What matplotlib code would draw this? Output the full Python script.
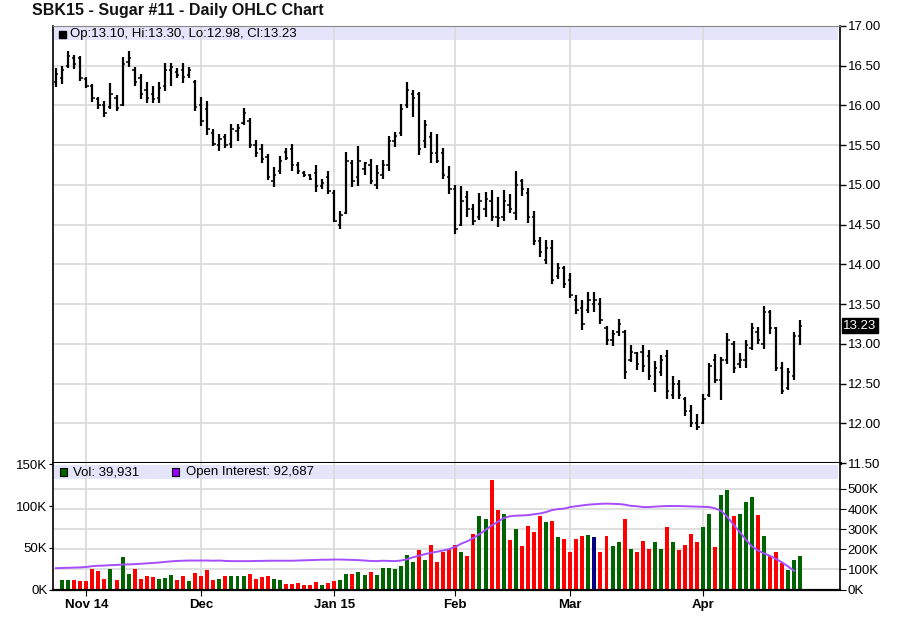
import numpy as np
import matplotlib
matplotlib.use('Agg')
import matplotlib.pyplot as plt
from matplotlib.patches import Rectangle

plt.rcParams['font.family'] = ['Liberation Sans', 'DejaVu Sans']

# daily OHLC, Oct 28 2014 .. Apr 24 2015 (one entry per trading day)
highs = [16.47, 16.50, 16.68, 16.64, 16.62, 16.36, 16.27, 16.11, 16.05, 16.28,
         16.13, 16.61, 16.69, 16.49, 16.40, 16.30, 16.24, 16.30, 16.53, 16.53,
         16.47, 16.54, 16.49, 16.32, 16.11, 16.05, 15.70, 15.64, 15.64, 15.77,
         15.77, 15.97, 15.84, 15.56, 15.52, 15.39, 15.22, 15.37, 15.46, 15.51,
         15.29, 15.18, 15.14, 15.25, 15.07, 15.18, 14.93, 14.67, 15.42, 15.31,
         15.49, 15.29, 15.32, 15.25, 15.31, 15.61, 15.67, 16.02, 16.30, 16.19,
         16.17, 15.82, 15.66, 15.64, 15.46, 15.24, 15.00, 14.99, 14.92, 14.76,
         14.90, 14.91, 14.94, 14.85, 14.93, 14.89, 15.18, 15.07, 14.96, 14.67,
         14.34, 14.31, 14.31, 14.02, 13.98, 13.89, 13.61, 13.55, 13.65, 13.65,
         13.58, 13.22, 13.18, 13.31, 13.17, 12.98, 12.90, 12.98, 12.92, 12.79,
         12.86, 12.92, 12.59, 12.54, 12.33, 12.23, 12.12, 12.37, 12.76, 12.87,
         12.84, 13.14, 13.03, 12.88, 13.05, 13.26, 13.21, 13.47, 13.43, 13.21,
         12.77, 12.70, 13.15, 13.30]
lows = [16.23, 16.27, 16.47, 16.46, 16.31, 16.22, 16.04, 15.95, 15.85, 15.95,
        15.93, 15.99, 16.49, 16.25, 16.08, 16.03, 16.03, 16.03, 16.18, 16.25,
        16.35, 16.28, 16.35, 15.93, 15.74, 15.63, 15.49, 15.43, 15.47, 15.46,
        15.55, 15.75, 15.46, 15.35, 15.27, 15.06, 14.97, 15.14, 15.31, 15.18,
        15.14, 15.10, 15.06, 14.91, 14.95, 14.89, 14.53, 14.44, 14.63, 14.97,
        14.99, 15.13, 15.01, 14.95, 15.08, 15.18, 15.48, 15.61, 15.97, 15.86,
        15.38, 15.46, 15.27, 15.27, 15.07, 14.89, 14.38, 14.48, 14.60, 14.50,
        14.56, 14.60, 14.55, 14.47, 14.54, 14.65, 14.56, 14.86, 14.52, 14.25,
        14.09, 14.00, 13.75, 13.81, 13.70, 13.58, 13.38, 13.18, 13.39, 13.40,
        13.25, 12.99, 12.97, 13.10, 12.56, 12.77, 12.67, 12.65, 12.54, 12.39,
        12.59, 12.31, 12.31, 12.31, 12.09, 11.95, 11.91, 11.99, 12.33, 12.51,
        12.29, 12.74, 12.63, 12.70, 12.70, 12.92, 13.00, 12.93, 13.12, 12.66,
        12.37, 12.42, 12.55, 12.98]
opens = [16.30, 16.35, 16.50, 16.60, 16.60, 16.33, 16.25, 16.08, 16.00, 15.98,
         16.10, 16.00, 16.55, 16.45, 16.35, 16.20, 16.15, 16.10, 16.25, 16.45,
         16.42, 16.45, 16.38, 16.30, 16.00, 15.95, 15.65, 15.50, 15.60, 15.52,
         15.68, 15.78, 15.80, 15.50, 15.45, 15.35, 15.05, 15.18, 15.42, 15.45,
         15.25, 15.15, 15.12, 15.15, 14.98, 15.10, 14.90, 14.50, 14.65, 15.28,
         15.10, 15.20, 15.25, 15.00, 15.12, 15.25, 15.55, 15.65, 16.00, 16.15,
         16.15, 15.55, 15.60, 15.40, 15.40, 15.10, 14.95, 14.50, 14.85, 14.70,
         14.60, 14.70, 14.80, 14.60, 14.60, 14.75, 14.65, 15.05, 14.90, 14.60,
         14.30, 14.05, 14.20, 13.85, 13.95, 13.80, 13.55, 13.45, 13.42, 13.50,
         13.50, 13.20, 13.05, 13.15, 13.15, 12.80, 12.88, 12.90, 12.85, 12.50,
         12.65, 12.85, 12.35, 12.50, 12.30, 12.15, 12.00, 12.00, 12.35, 12.80,
         12.55, 12.80, 13.00, 12.75, 12.80, 12.95, 13.15, 13.00, 13.40, 13.20,
         12.70, 12.45, 12.60, 13.10]
closes = [16.40, 16.44, 16.62, 16.52, 16.35, 16.25, 16.10, 16.00, 15.90, 16.15,
          15.97, 16.52, 16.60, 16.30, 16.15, 16.10, 16.08, 16.22, 16.45, 16.48,
          16.38, 16.36, 16.45, 15.98, 15.80, 15.70, 15.52, 15.58, 15.50, 15.70,
          15.72, 15.90, 15.50, 15.40, 15.32, 15.10, 15.12, 15.30, 15.34, 15.25,
          15.18, 15.12, 15.08, 14.98, 15.02, 14.92, 14.55, 14.62, 15.30, 15.05,
          15.30, 15.27, 15.05, 15.15, 15.25, 15.55, 15.62, 15.95, 16.20, 16.10,
          15.45, 15.75, 15.40, 15.30, 15.12, 14.95, 14.45, 14.80, 14.70, 14.55,
          14.80, 14.82, 14.60, 14.58, 14.80, 14.70, 15.00, 14.95, 14.60, 14.30,
          14.15, 14.20, 13.80, 13.95, 13.75, 13.62, 13.42, 13.25, 13.55, 13.55,
          13.30, 13.05, 13.12, 13.25, 12.65, 12.90, 12.75, 12.72, 12.60, 12.70,
          12.80, 12.40, 12.50, 12.35, 12.15, 12.00, 11.95, 12.30, 12.72, 12.55,
          12.80, 13.05, 12.70, 12.80, 12.98, 13.20, 13.05, 13.40, 13.20, 12.70,
          12.40, 12.65, 13.10, 13.23]

# volume in thousands, g = up, r = down, b = unchanged
volume = [0, 11, 11, 11, 10, 10, 25, 22, 13, 24,
          11, 39, 19, 24, 13, 16, 15, 13, 14, 17,
          11, 16, 10, 20, 16, 23, 11, 13, 16, 16,
          16, 16, 19, 13, 15, 16, 13, 11, 7, 7,
          7.4, 5.4, 5.4, 8.6, 5.4, 7.4, 10.2, 11.4, 18.9, 18.9,
          20.6, 17.4, 20.6, 17.4, 26.2, 26.2, 24.6, 28.6, 41.4, 32.6,
          47.4, 35.4, 53.4, 32.6, 44.6, 48.6, 53.4, 44.6, 40.2, 66.8,
          87.8, 85, 131.4, 95.4, 90.8, 59.4, 73, 52.2, 76.2, 68.6,
          87.8, 80.6, 82.2, 62.4, 60.6, 44.6, 60.6, 63.8, 65.4, 62.6,
          44.6, 63.8, 52.2, 56.6, 84.6, 48.6, 44.6, 58.2, 48.6, 56.6,
          48.6, 74.6, 56.6, 47.4, 53.4, 66.6, 56.6, 74.6, 90.6, 50.6,
          113.4, 119.4, 88.2, 90.6, 104.2, 110.6, 89.4, 64.2, 40.2, 44.6,
          31.4, 23.4, 35.4, 39.9]
vol_dir = ('rggrrrrrrg' 'rggrrrrggg' 'rrgrrrrgrg' 'ggrrrrggrr'
           'rrrrgrrggr' 'ggrggggggg' 'rgrrrrrgrr' 'ggrrgrgrrr'
           'rgrgrrrrgb' 'rrggrgrrrg' 'grgrrrrggr' 'ggrgggrgrr' 'rggg')

# open interest in thousands
open_int = [106, 107, 108, 109, 110, 112, 116, 118, 119, 121,
            122, 124, 125, 126, 128, 130, 132, 134, 137, 140,
            142, 143, 144, 144, 144, 144, 143, 144, 142, 141,
            141, 141, 141, 142, 142, 143, 143, 143, 143, 143,
            144, 145, 146, 147, 148, 148, 149, 149, 148, 147,
            146, 144, 142, 141, 143, 142, 141, 144, 150, 160,
            168, 176, 183, 188, 194, 201, 212, 228, 240, 256,
            275, 296, 318, 336, 355, 364, 367, 368, 370, 374,
            378, 385, 395, 400, 402, 410, 414, 418, 422, 424,
            426, 427, 426, 425, 422, 416, 414, 410, 410, 412,
            414, 415, 415, 415, 414, 413, 412, 411, 410, 403,
            390, 360, 322, 286, 250, 215, 195, 180, 168, 152,
            135, 115, 93]

month_pos = [5, 24, 46, 66, 85, 107]
month_labels = ['Nov 14', 'Dec', 'Jan 15', 'Feb', 'Mar', 'Apr']
price_ticks = np.arange(11.5, 17.01, 0.5)
vol_ticks = [0, 50, 100, 150]
oi_ticks = [0, 100, 200, 300, 400, 500]

W, H = 905, 622
def fx(x): return x / W
def fy(y): return 1 - y / H

grid_c = '#dcdcdc'
band_c = '#e4e4fa'
cmap = {'g': '#006400', 'r': '#ff0000', 'b': '#000080'}

fig = plt.figure(figsize=(W / 100, H / 100), dpi=100)
ax = fig.add_axes([fx(53), fy(463), fx(840) - fx(53), fy(26) - fy(463)])
axo = fig.add_axes([fx(53), fy(589.5), fx(840) - fx(53), fy(463) - fy(589.5)])
axv = fig.add_axes(axo.get_position(), sharex=axo)
axl = fig.add_axes(axo.get_position(), sharex=axo)
axo.set_zorder(1)
axv.set_zorder(2)
axl.set_zorder(3)
axv.patch.set_visible(False)
axl.patch.set_visible(False)

xs = np.arange(len(highs))
xlim = (-0.5, 129.6)

# --- price panel
ax.vlines(xs, lows, highs, color='black', lw=1.6, zorder=3)
ax.hlines(opens, xs - 0.38, xs, color='black', lw=1.1, zorder=3)
ax.hlines(closes, xs, xs + 0.38, color='black', lw=1.1, zorder=3)
ax.set_xlim(xlim)
ax.set_ylim(11.5, 17.0)
ax.set_xticks(month_pos)
ax.set_yticks(price_ticks)
ax.set_yticklabels(['%.2f' % p for p in price_ticks])
ax.yaxis.tick_right()
ax.tick_params(axis='y', direction='out', length=4, width=1, pad=1.5, labelsize=9.5)
ax.tick_params(axis='x', length=0, labelbottom=False)
ax.set_axisbelow(True)
ax.grid(True, color=grid_c, lw=1.3)
ax.add_patch(Rectangle((0, 0.9685), 0.997, 0.029, transform=ax.transAxes,
                       facecolor=band_c, edgecolor='none', zorder=0.3))
for s in ['left', 'right']:
    ax.spines[s].set_linewidth(1.2)
ax.spines['top'].set_linewidth(0.8)
ax.spines['top'].set_color('#888888')
ax.spines['bottom'].set_linewidth(2.2)

ax.text(1.004, closes[-1], '%.2f' % closes[-1], transform=ax.get_yaxis_transform(),
        color='white', fontsize=9.5, va='center', ha='left',
        bbox=dict(boxstyle='square,pad=0.1', facecolor='black', edgecolor='black'))

# --- volume panel: grid carrier with right scale
axo.set_ylim(0, 629)
axo.set_yticks(oi_ticks)
axo.set_yticklabels(['%dK' % v for v in oi_ticks])
axo.yaxis.tick_right()
axo.tick_params(axis='y', direction='out', length=4, pad=1.5, labelsize=9.5)
axo.set_axisbelow(True)
axo.grid(True, axis='y', color=grid_c, lw=1.3)
axo.add_patch(Rectangle((0, 0.8735), 0.997, 0.1105, transform=axo.transAxes,
                        facecolor=band_c, edgecolor='none', zorder=0.3))
axo.tick_params(axis='x', length=0, labelbottom=False)
for s in axo.spines.values():
    s.set_visible(False)

# bars with left scale
axv.bar(xs, volume, width=0.66, color=[cmap[c] for c in vol_dir], zorder=2)
axv.set_xlim(xlim)
axv.set_ylim(0, 151.5)
axv.set_yticks(vol_ticks)
axv.set_yticklabels(['%dK' % v for v in vol_ticks])
axv.tick_params(axis='y', direction='out', length=3, pad=1, labelsize=9.5)
axv.set_xticks(month_pos)
axv.set_xticklabels(month_labels, fontweight='bold', fontsize=9.5)
axv.tick_params(axis='x', direction='out', length=4, pad=3)
axv.set_axisbelow(True)
axv.grid(True, axis='x', color=grid_c, lw=1.3)
axv.spines['top'].set_visible(False)
axv.spines['bottom'].set_linewidth(1.6)
axv.spines['left'].set_linewidth(1.2)
axv.spines['right'].set_linewidth(1.2)

# open interest line
axl.plot(xs[:len(open_int)], open_int, color='#a64dff', lw=1.4)
axl.set_ylim(0, 629)
axl.set_xlim(xlim)
axl.axis('off')

# --- titles and legends
fig.text(fx(32), fy(11), 'SBK15 - Sugar #11 - Daily OHLC Chart', fontsize=11.5,
         fontweight='bold', va='center', ha='left', color='#111111')

fig.patches.append(Rectangle((fx(59), fy(38)), fx(7), fy(31) - fy(38),
                             transform=fig.transFigure, facecolor='black',
                             edgecolor='black', figure=fig, zorder=10))
fig.text(fx(70), fy(34), 'Op:%.2f, Hi:%.2f, Lo:%.2f, Cl:%.2f'
         % (opens[-1], highs[-1], lows[-1], closes[-1]),
         fontsize=9.5, va='center', ha='left', zorder=10)

fig.patches.append(Rectangle((fx(60), fy(476)), fx(7), fy(468) - fy(476),
                             transform=fig.transFigure, facecolor=cmap['g'],
                             edgecolor='black', lw=0.8, figure=fig, zorder=10))
fig.text(fx(73), fy(472.5), 'Vol: {:,}'.format(39931), fontsize=9.5,
         va='center', ha='left', zorder=10)
fig.patches.append(Rectangle((fx(172), fy(476)), fx(7), fy(468) - fy(476),
                             transform=fig.transFigure, facecolor='#9900ff',
                             edgecolor='black', lw=0.8, figure=fig, zorder=10))
fig.text(fx(186), fy(472.5), 'Open Interest: {:,}'.format(92687), fontsize=9.5,
         va='center', ha='left', zorder=10)

fig.savefig('out.png', dpi=100)
